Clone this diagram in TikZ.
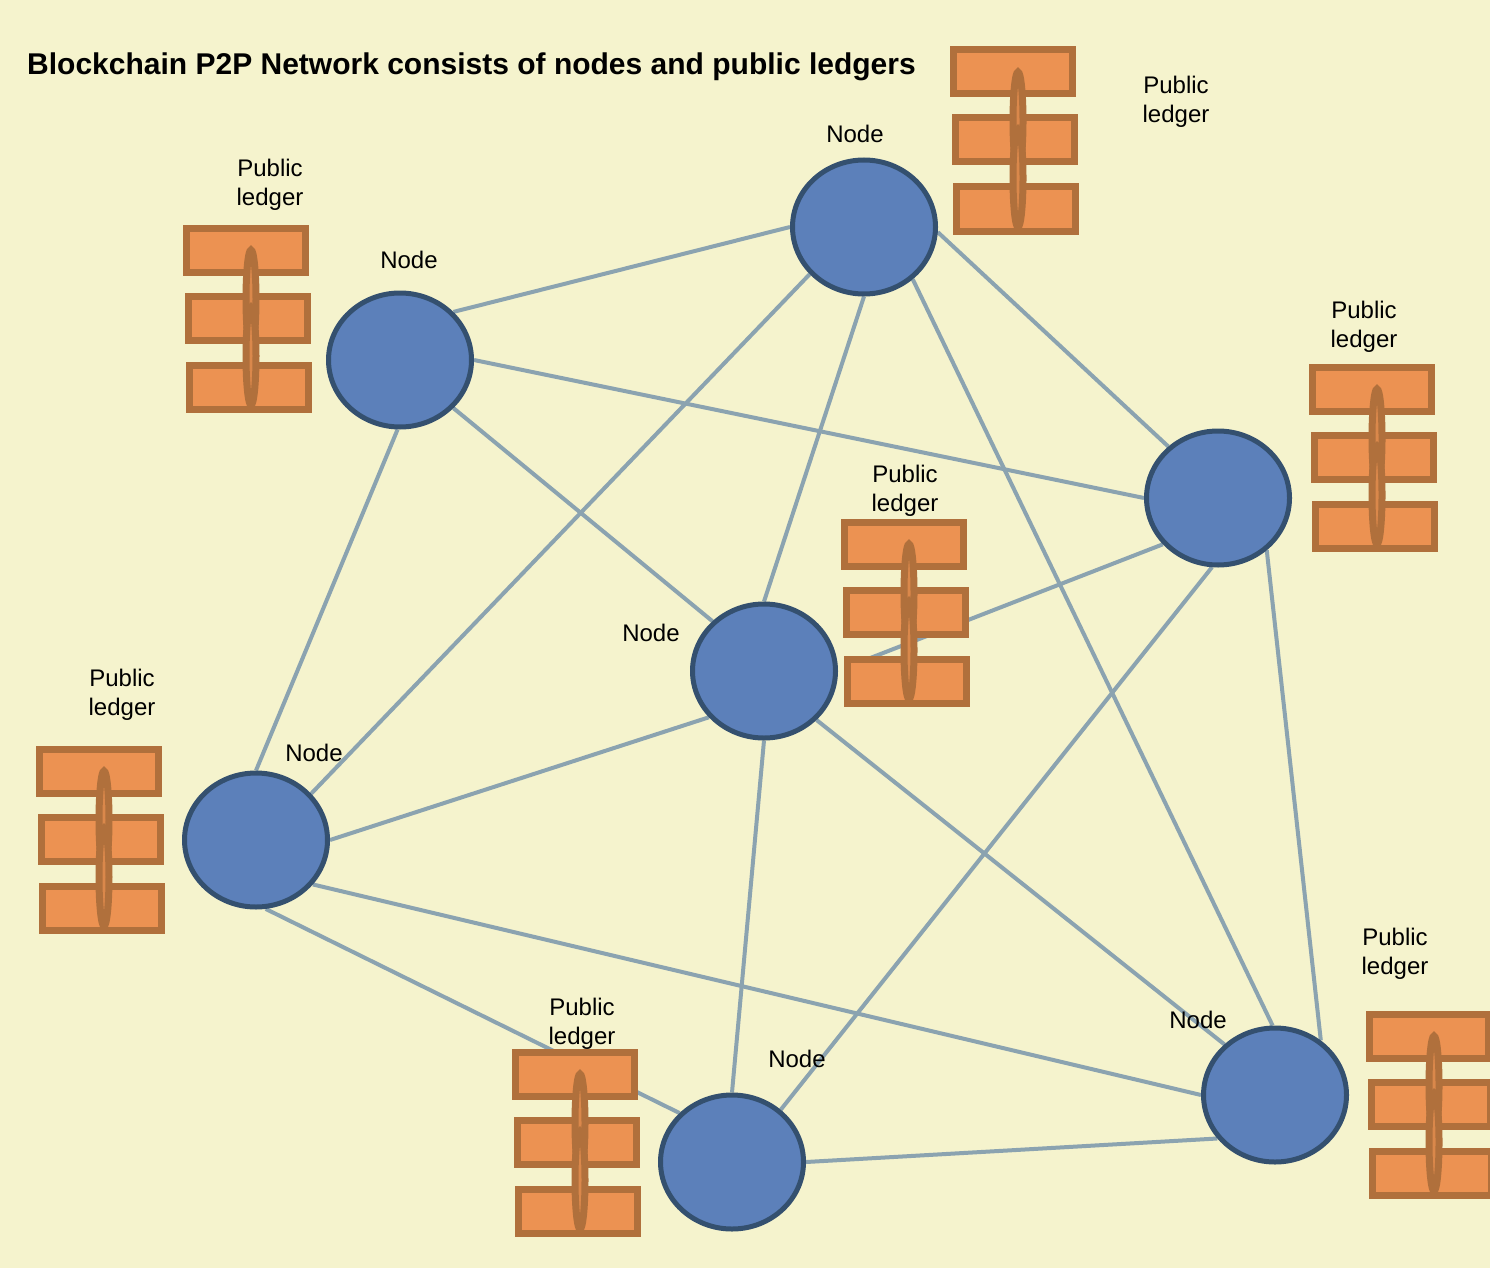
\documentclass[tikz,border=0pt]{standalone}
\usepackage{fontspec}
\setmainfont{Liberation Sans}
\usepackage{xcolor}
\usetikzlibrary{shapes,backgrounds}

\definecolor{paper}{HTML}{F5F3CD}
\definecolor{peer}{HTML}{5C80BA}
\definecolor{peerline}{HTML}{34506F}
\definecolor{linkcol}{HTML}{8BA3B0}
\definecolor{brickfill}{HTML}{EC9252}
\definecolor{brickline}{HTML}{B0703C}

\tikzset{
    peernode/.style={ellipse, draw=peerline, fill=peer, line width=5pt, inner sep=0pt,
        minimum width=143pt, minimum height=134pt},
    link/.style={draw=linkcol, line width=4pt},
    brick/.style={rectangle, draw=brickline, fill=brickfill, line width=7pt, inner sep=0pt,
        minimum width=119pt, minimum height=44pt},
    chain/.style={ellipse, draw=brickline, fill=brickfill!70!brickline, line width=7pt, inner sep=0pt,
        minimum width=10pt, minimum height=98pt},
    lbl/.style={font=\fontsize{24}{29}\selectfont, align=center, inner sep=0pt, text=black},
    ledger/.pic={
        \node[brick] (-top) at (-1,-69) {};
        \node[brick] (-mid) at (1,-1) {};
        \node[brick] (-bot) at (2,68) {};
        \node[chain] (-linka) at (4,-20) {};
        \node[chain] (-linkb) at (4,37) {};
    }
}

\begin{document}
\begin{tikzpicture}[x=1pt,y=-1pt]
    \useasboundingbox (0,0) rectangle (1490,1268);

    % Title
    \node[lbl, anchor=west, font=\fontsize{30}{36}\selectfont\bfseries] (title) at (27,67)
        {Blockchain P2P Network consists of nodes and public ledgers};

    % Peers
    \node[peernode] (n1) at (864,227) {};
    \node[peernode] (n2) at (400,360) {};
    \node[peernode] (n3) at (1218,498) {};
    \node[peernode] (n4) at (764,671) {};
    \node[peernode] (n5) at (256,840) {};
    \node[peernode] (n6) at (732,1162) {};
    \node[peernode] (n7) at (1275,1095) {};

    % Ledgers
    \foreach \name/\pos in {l1/{1014,141}, l2/{247,319}, l3/{1373,458}, l4/{905,613},
                            l5/{100,840}, l6/{576,1143}, l7/{1430,1105}} {
        \pic (\name) at (\pos) {ledger};
    }

    % Free end of the link that stops behind the ledger
    \coordinate (stub) at (860,662);

    % Links go behind everything
    \begin{scope}[on background layer]
        \fill[paper] (0,0) rectangle (1490,1268);
        \foreach \a/\b in {n2.42/n1.west, n2.east/n3.west, n2.-42/n4.136, n2.-92/n5.north,
                           n1.221/n5.40, n1.south/n4.north, n1.-4/n3.134, n1.-47/n7.92,
                           n3.-95/n6.47, n3.-47/n7.50, n3.220/stub, n4.220/n5.east,
                           n4.south/n6.north, n4.-43/n7.135, n5.-82/n6.137, n5.-38/n7.west,
                           n6.east/n7.217} {
            \draw[link] (\a) -- (\b);
        }
    \end{scope}

    % Node labels
    \node[lbl] (t1) at (855,134) {Node};
    \node[lbl] (t2) at (409,260) {Node};
    \node[lbl] (t4) at (651,633) {Node};
    \node[lbl] (t5) at (314,753) {Node};
    \node[lbl] (t6) at (797,1059) {Node};
    \node[lbl] (t7) at (1198,1020) {Node};

    % Ledger labels
    \node[lbl] (p1) at (1176,102) {Public\\ledger};
    \node[lbl] (p2) at (270,185) {Public\\ledger};
    \node[lbl] (p3) at (1364,327) {Public\\ledger};
    \node[lbl] (p4) at (905,491) {Public\\ledger};
    \node[lbl] (p5) at (122,695) {Public\\ledger};
    \node[lbl] (p6) at (582,1024) {Public\\ledger};
    \node[lbl] (p7) at (1395,954) {Public\\ledger};
\end{tikzpicture}
\end{document}
